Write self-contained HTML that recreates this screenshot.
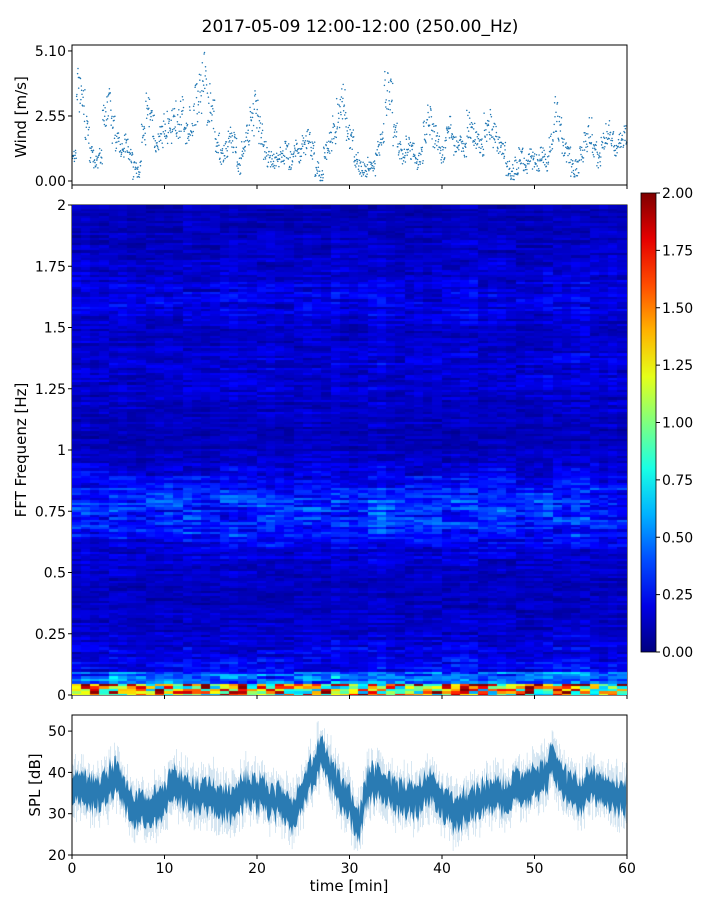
<!DOCTYPE html>
<html><head><meta charset="utf-8">
<style>
body{margin:0;background:#fff;font-family:"DejaVu Sans","Liberation Sans",sans-serif;}
#wrap{position:relative;width:720px;height:900px;}
canvas{position:absolute;}
</style></head>
<body>
<div id="wrap">
<svg id="svg" width="720" height="900" style="position:absolute;left:0;top:0;font-family:'DejaVu Sans','Liberation Sans',sans-serif"></svg>
<canvas id="spec" width="555" height="490" style="left:72px;top:205px"></canvas>
</div>
<script>
// ---- data ----
const windValues=[1.0,3.5,3.0,2.0,1.0,0.8,1.0,2.5,3.3,2.0,1.5,1.2,1.5,1.0,0.4,0.5,1.8,2.8,2.2,1.5,1.8,2.2,2.0,2.5,2.3,2.6,2.0,2.3,3.0,3.5,4.0,3.0,2.5,1.5,1.0,1.2,1.8,1.5,0.6,1.2,1.8,2.4,2.8,2.0,1.2,0.9,0.8,0.9,1.0,1.2,0.8,1.3,1.0,1.4,1.6,1.2,0.5,0.3,1.2,1.5,2.0,2.6,3.0,2.2,1.6,0.8,0.5,0.5,0.6,0.5,1.2,1.8,3.5,3.2,1.8,1.2,1.0,1.4,1.2,0.8,1.0,2.0,2.4,1.8,1.5,1.0,1.8,2.0,1.4,1.6,1.3,2.2,1.8,1.6,1.3,2.1,2.2,1.8,1.4,1.2,0.5,0.4,0.6,1.0,0.6,1.0,0.8,0.7,1.0,0.7,1.5,2.6,2.0,1.3,1.0,0.5,0.5,1.0,1.5,2.0,1.2,0.8,1.5,2.0,1.6,1.2,1.5,1.7];
const splValues=[37,36,34,35,37,39,33,31,30,32,34,37,36,34,33,35,33,32,34,36,35,34,33,31,30,35,40,45,40,35,32,27,37,38,36,34,34,33,35,36,33,30,31,32,33,35,34,34,37,36,38,39,43,37,35,34,38,36,35,34,34];
const freqProfile=[1.25,0.55,0.3,0.26,0.22,0.18,0.18,0.16,0.16,0.17,0.19,0.22,0.28,0.36,0.4,0.42,0.38,0.3,0.24,0.18,0.15,0.15,0.17,0.18,0.19,0.21,0.22,0.22,0.19,0.17,0.21,0.24,0.26,0.24,0.21,0.19,0.17,0.17,0.15,0.14];
const timeFactor=[1.0,1.1,0.95,1.0,1.05,1.1,1.0,0.9,0.95,1.0,1.05,1.0,1.1,1.0,0.95,1.0,1.05,1.1,1.0,1.0,1.05,1.1,1.0,0.95,1.0,1.1,1.05,1.0,1.15,1.0,0.95,1.0,1.1,1.2,1.0,0.95,1.0,1.05,1.0,1.1,1.0,1.05,1.15,1.1,1.0,1.05,1.1,1.0,0.95,1.0,1.0,1.1,1.05,1.0,1.1,1.15,1.05,1.0,1.1,1.0];
const windTicks=["0.00","2.55","5.10"];
const freqTicks=["0","0.25","0.5","0.75","1","1.25","1.5","1.75","2"];
const splTicks=[20,30,40,50];
const timeTicks=[0,10,20,30,40,50,60];
const cbarTicks=["0.00","0.25","0.50","0.75","1.00","1.25","1.50","1.75","2.00"];

const NS="http://www.w3.org/2000/svg";
const svg=document.getElementById('svg');
function el(tag,attrs,parent,text){const e=document.createElementNS(NS,tag);for(const k in attrs)e.setAttribute(k,attrs[k]);if(text!==undefined)e.textContent=text;(parent||svg).appendChild(e);return e;}
const X0=72,X1=627;
const xS=t=>X0+(t/60)*(X1-X0);
const wY=v=>181-v*25.5;
const fY=f=>695-f*245;
const sY=v=>855-(v-20)*4.13;
const cY=v=>652-v*229.5;
function jet(v){v=Math.max(0,Math.min(1,v/2));
 const r=Math.max(0,Math.min(1,1.5-Math.abs(4*v-3))),g=Math.max(0,Math.min(1,1.5-Math.abs(4*v-2))),b=Math.max(0,Math.min(1,1.5-Math.abs(4*v-1)));
 return [r*255|0,g*255|0,b*255|0];}
function hash(a,b){let h=(a*374761393+b*668265263)^0x5bd1e995;h=(h^(h>>>13))*1274126177;return ((h^(h>>>16))>>>0)/4294967296;}

let t=el('text',{x:360,y:32,'font-size':17,'text-anchor':'middle',fill:'#000'},svg,'2017-05-09 12:00-12:00 (250.00_Hz)');


// ---- wind panel ----
const gW=el('g',{});
windValues.forEach((v,i)=>{
 const tm=(i+0.5)*60/windValues.length;
 for(let k=0;k<12;k++){
  const dt=(k/12-0.45)*60/windValues.length;
  const dv=(hash(i,k)-0.5)*Math.max(0.7,v*0.55);
  const c=el('circle',{cx:xS(tm+dt).toFixed(1),cy:wY(Math.max(0.02,v+dv)).toFixed(1),r:0.75,fill:'#1f77b4'},gW);
  
 }
});
el('rect',{x:X0,y:45,width:X1-X0,height:140,fill:'none',stroke:'#000','stroke-width':1},gW);
windTicks.forEach(s=>{const y=wY(parseFloat(s));el('line',{x1:X0-4,x2:X0,y1:y,y2:y,stroke:'#000'},gW);
 const l=el('text',{x:X0-6,y:y+5,'font-size':14,'text-anchor':'end'},gW,s);});
timeTicks.forEach(v=>el('line',{x1:xS(v),x2:xS(v),y1:185,y2:189,stroke:'#000'},gW));
let yl=el('text',{x:26,y:117,'font-size':15,'text-anchor':'middle',transform:'rotate(-90 26 117)'},svg,'Wind [m/s]');


// ---- spectrogram ----
const cv=document.getElementById('spec'),ctx=cv.getContext('2d');
const nRows=200,nCols=timeFactor.length;
for(let c=0;c<nCols;c++){
 for(let r=0;r<nRows;r++){
  const f=(r+0.5)/nRows*2;
  const fi=Math.min(freqProfile.length-1,Math.floor(f/2*freqProfile.length));
  const streak=0.25+0.75*hash(r,Math.floor(c/4)+99)+0.55*hash(c,r);
  let v=freqProfile[fi]*timeFactor[c]*streak*0.85;
  if(fi===0) v=freqProfile[0]*(0.45+1.2*hash(c,r));
  const [R,G,B]=jet(v);
  ctx.fillStyle=`rgb(${R},${G},${B})`;
  const x0=(xS(c*60/nCols)-X0),x1=(xS((c+1)*60/nCols)-X0);
  ctx.fillRect(Math.floor(x0),Math.floor(fY((r+1)/nRows*2)-205),Math.ceil(x1-x0)+1,Math.ceil(490/nRows)+1);
 }
}
const gS=el('g',{});
el('rect',{x:X0,y:205,width:X1-X0,height:490,fill:'none',stroke:'#000'},gS);
freqTicks.forEach(s=>{const y=fY(parseFloat(s));el('line',{x1:X0-4,x2:X0,y1:y,y2:y,stroke:'#000'},gS);
 const l=el('text',{x:X0-6,y:y+5,'font-size':14,'text-anchor':'end'},gS,s);});
timeTicks.forEach(v=>el('line',{x1:xS(v),x2:xS(v),y1:695,y2:699,stroke:'#000'},gS));
yl=el('text',{x:26,y:450,'font-size':15,'text-anchor':'middle',transform:'rotate(-90 26 450)'},svg,'FFT Frequenz [Hz]');


// colorbar
const defs=el('defs',{});const lg=el('linearGradient',{id:'jetg',x1:0,y1:1,x2:0,y2:0},defs);
for(let i=0;i<=10;i++){const [R,G,B]=jet(i/10*2);el('stop',{offset:i/10,'stop-color':`rgb(${R},${G},${B})`},lg);}
const gC=el('g',{});
el('rect',{x:641,y:193,width:15,height:459,fill:'url(#jetg)',stroke:'#000','stroke-width':0.8},gC);
cbarTicks.forEach(s=>{const y=cY(parseFloat(s));el('line',{x1:656,x2:660,y1:y,y2:y,stroke:'#000'},gC);
 const l=el('text',{x:662,y:y+5,'font-size':14},gC,s);});

// ---- SPL panel ----
const gP=el('g',{});
el('clipPath',{id:'clipP'},defs).appendChild((()=>{const r=document.createElementNS(NS,'rect');r.setAttribute('x',X0);r.setAttribute('y',715);r.setAttribute('width',X1-X0);r.setAttribute('height',140);return r;})());
const gPl=el('g',{'clip-path':'url(#clipP)'},gP);
let up=[],dn=[],spikes='';
for(let i=0;i<splValues.length-1;i++){
 for(let k=0;k<10;k++){
  const fr=k/10,tm=(i+fr)*60/(splValues.length-1);
  const v=splValues[i]*(1-fr)+splValues[i+1]*fr+(hash(i,k+50)-0.5)*4;
  up.push(`${xS(tm).toFixed(1)},${sY(v+2.5+hash(i,k)*2).toFixed(1)}`);
  dn.push(`${xS(tm).toFixed(1)},${sY(v-2.5-hash(k,i)*2).toFixed(1)}`);
  spikes+=`M${xS(tm).toFixed(1)},${sY(v+4+hash(i,k+9)*4).toFixed(1)}V${sY(v-4-hash(i,k+7)*4).toFixed(1)}`;
 }
}
el('path',{d:spikes,stroke:'#1f77b4','stroke-width':0.4,opacity:0.45,fill:'none'},gPl);
const band=el('polygon',{points:up.concat(dn.reverse()).join(' '),fill:'#2a7bb3'},gPl);

el('rect',{x:X0,y:715,width:X1-X0,height:140,fill:'none',stroke:'#000'},gP);
splTicks.forEach(v=>{const y=sY(v);el('line',{x1:X0-4,x2:X0,y1:y,y2:y,stroke:'#000'},gP);
 const l=el('text',{x:X0-6,y:y+5,'font-size':14,'text-anchor':'end'},gP,v);});
timeTicks.forEach(v=>{el('line',{x1:xS(v),x2:xS(v),y1:855,y2:859,stroke:'#000'},gP);
 const l=el('text',{x:xS(v),y:873,'font-size':14,'text-anchor':'middle'},gP,v);});
yl=el('text',{x:40,y:785,'font-size':15,'text-anchor':'middle',transform:'rotate(-90 40 785)'},svg,'SPL [dB]');

const xl=el('text',{x:349,y:891,'font-size':15,'text-anchor':'middle'},svg,'time [min]');

</script>
</body></html>
